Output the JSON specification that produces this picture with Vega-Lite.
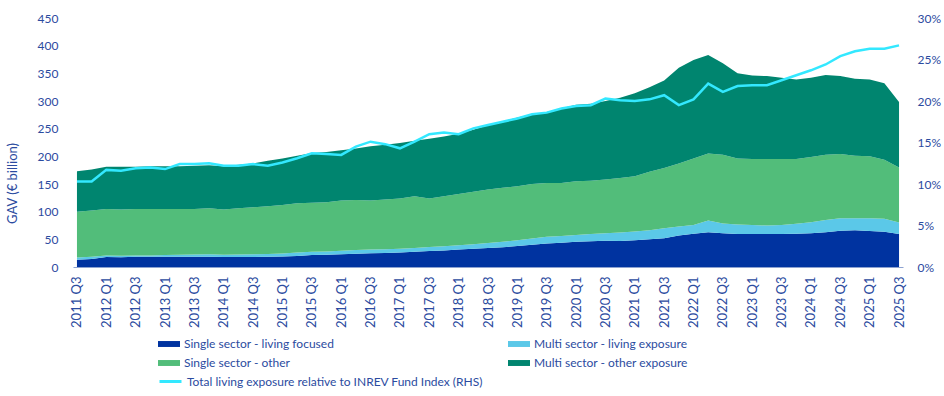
{
  "$schema": "https://vega.github.io/schema/vega-lite/v6.json",
  "width": 830,
  "height": 249,
  "autosize": {"type": "none"},
  "padding": {"left": 73, "top": 18, "right": 41, "bottom": 129},
  "background": "white",
  "config": {
    "view": {"stroke": null},
    "font": "Lato",
    "axis": {"labelColor": "#2B4BA0", "titleColor": "#2B4BA0", "labelFont": "Lato", "titleFont": "Lato", "grid": false, "ticks": false}
  },
  "data": {
    "values": [
      {"q": "2011 Q3", "s1": 13, "s2": 4, "s3": 83, "s4": 73, "p": 10.3},
      {"q": "2011 Q4", "s1": 14.5, "s2": 4, "s3": 83.5, "s4": 74, "p": 10.3},
      {"q": "2012 Q1", "s1": 18, "s2": 3, "s3": 84, "s4": 76, "p": 11.7},
      {"q": "2012 Q2", "s1": 17.5, "s2": 3, "s3": 83.5, "s4": 77, "p": 11.6},
      {"q": "2012 Q3", "s1": 18.5, "s2": 2.5, "s3": 84, "s4": 76, "p": 11.9},
      {"q": "2012 Q4", "s1": 18.5, "s2": 2.5, "s3": 84, "s4": 77, "p": 12.0},
      {"q": "2013 Q1", "s1": 18.5, "s2": 3, "s3": 83.5, "s4": 77, "p": 11.8},
      {"q": "2013 Q2", "s1": 18.5, "s2": 3.5, "s3": 83, "s4": 77, "p": 12.4},
      {"q": "2013 Q3", "s1": 18.5, "s2": 4, "s3": 82.5, "s4": 78, "p": 12.4},
      {"q": "2013 Q4", "s1": 18.5, "s2": 4.5, "s3": 83, "s4": 78, "p": 12.5},
      {"q": "2014 Q1", "s1": 18, "s2": 4, "s3": 82, "s4": 78, "p": 12.2},
      {"q": "2014 Q2", "s1": 18, "s2": 4.5, "s3": 83.5, "s4": 79, "p": 12.2},
      {"q": "2014 Q3", "s1": 18, "s2": 5, "s3": 85, "s4": 79, "p": 12.4},
      {"q": "2014 Q4", "s1": 18.5, "s2": 5, "s3": 86.5, "s4": 82, "p": 12.2},
      {"q": "2015 Q1", "s1": 19, "s2": 5.5, "s3": 87.5, "s4": 84, "p": 12.6},
      {"q": "2015 Q2", "s1": 20, "s2": 6, "s3": 89, "s4": 86, "p": 13.1},
      {"q": "2015 Q3", "s1": 21.5, "s2": 6, "s3": 88.5, "s4": 90, "p": 13.7},
      {"q": "2015 Q4", "s1": 22, "s2": 6, "s3": 89, "s4": 91, "p": 13.6},
      {"q": "2016 Q1", "s1": 23, "s2": 6.5, "s3": 90.5, "s4": 91, "p": 13.5},
      {"q": "2016 Q2", "s1": 24, "s2": 6.5, "s3": 90.5, "s4": 93, "p": 14.5},
      {"q": "2016 Q3", "s1": 25, "s2": 6.5, "s3": 88.5, "s4": 98, "p": 15.1},
      {"q": "2016 Q4", "s1": 25.5, "s2": 6.5, "s3": 90, "s4": 99, "p": 14.8},
      {"q": "2017 Q1", "s1": 26, "s2": 7, "s3": 91, "s4": 100, "p": 14.3},
      {"q": "2017 Q2", "s1": 27.5, "s2": 7, "s3": 93.5, "s4": 100, "p": 15.1},
      {"q": "2017 Q3", "s1": 29, "s2": 7, "s3": 88, "s4": 108, "p": 16.0},
      {"q": "2017 Q4", "s1": 30, "s2": 7.5, "s3": 90.5, "s4": 108, "p": 16.2},
      {"q": "2018 Q1", "s1": 31.5, "s2": 8, "s3": 92.5, "s4": 109, "p": 16.0},
      {"q": "2018 Q2", "s1": 33, "s2": 8, "s3": 95, "s4": 112, "p": 16.7},
      {"q": "2018 Q3", "s1": 34.5, "s2": 9, "s3": 96.5, "s4": 116, "p": 17.1},
      {"q": "2018 Q4", "s1": 35.5, "s2": 10, "s3": 97.5, "s4": 120, "p": 17.5},
      {"q": "2019 Q1", "s1": 38, "s2": 10.5, "s3": 97.5, "s4": 124, "p": 17.9},
      {"q": "2019 Q2", "s1": 40, "s2": 11.5, "s3": 98.5, "s4": 126, "p": 18.4},
      {"q": "2019 Q3", "s1": 42.5, "s2": 12, "s3": 97.5, "s4": 128, "p": 18.6},
      {"q": "2019 Q4", "s1": 44, "s2": 12, "s3": 96, "s4": 135, "p": 19.1},
      {"q": "2020 Q1", "s1": 45.5, "s2": 12.3, "s3": 97.2, "s4": 138, "p": 19.4},
      {"q": "2020 Q2", "s1": 46.5, "s2": 13, "s3": 96.5, "s4": 139, "p": 19.5},
      {"q": "2020 Q3", "s1": 47.5, "s2": 13.5, "s3": 97, "s4": 142, "p": 20.3},
      {"q": "2020 Q4", "s1": 47, "s2": 15.5, "s3": 98.5, "s4": 145, "p": 20.1},
      {"q": "2021 Q1", "s1": 48.5, "s2": 15.5, "s3": 100, "s4": 150, "p": 20.0},
      {"q": "2021 Q2", "s1": 50, "s2": 16.5, "s3": 105.5, "s4": 153, "p": 20.2},
      {"q": "2021 Q3", "s1": 52, "s2": 18, "s3": 109, "s4": 158, "p": 20.7},
      {"q": "2021 Q4", "s1": 57, "s2": 16, "s3": 114, "s4": 173, "p": 19.5},
      {"q": "2022 Q1", "s1": 60, "s2": 16, "s3": 120, "s4": 178, "p": 20.2},
      {"q": "2022 Q2", "s1": 63, "s2": 21, "s3": 121, "s4": 178, "p": 22.1},
      {"q": "2022 Q3", "s1": 61, "s2": 17.5, "s3": 124.5, "s4": 165, "p": 21.1},
      {"q": "2022 Q4", "s1": 59.6, "s2": 17.4, "s3": 119, "s4": 154, "p": 21.8},
      {"q": "2023 Q1", "s1": 59.6, "s2": 16.4, "s3": 119, "s4": 151, "p": 21.9},
      {"q": "2023 Q2", "s1": 59.6, "s2": 15.4, "s3": 120, "s4": 150, "p": 21.9},
      {"q": "2023 Q3", "s1": 59.6, "s2": 16.4, "s3": 119, "s4": 147, "p": 22.5},
      {"q": "2023 Q4", "s1": 60, "s2": 18, "s3": 117, "s4": 144, "p": 23.1},
      {"q": "2024 Q1", "s1": 61, "s2": 20, "s3": 118, "s4": 143, "p": 23.7},
      {"q": "2024 Q2", "s1": 63, "s2": 22, "s3": 118, "s4": 144, "p": 24.4},
      {"q": "2024 Q3", "s1": 65.5, "s2": 22.5, "s3": 116, "s4": 141, "p": 25.4},
      {"q": "2024 Q4", "s1": 66.5, "s2": 21.5, "s3": 113, "s4": 139, "p": 26.0},
      {"q": "2025 Q1", "s1": 65, "s2": 23, "s3": 112, "s4": 139, "p": 26.3},
      {"q": "2025 Q2", "s1": 63.5, "s2": 23.5, "s3": 107, "s4": 138, "p": 26.3},
      {"q": "2025 Q3", "s1": 59.6, "s2": 20.9, "s3": 99.5, "s4": 118, "p": 26.7}
    ]
  },
  "encoding": {
    "x": {
      "field": "q",
      "type": "ordinal",
      "scale": {"type": "point", "padding": 0.27},
      "axis": {
        "title": null,
        "labelAngle": -90,
        "labelFontSize": 13,
        "labelPadding": 9,
        "labelOverlap": false,
        "labelExpr": "indexof(datum.label, 'Q2') >= 0 || indexof(datum.label, 'Q4') >= 0 ? '' : datum.label",
        "domainColor": "#8DA2D0",
        "domainWidth": 1
      }
    }
  },
  "layer": [
    {
      "transform": [{"fold": ["s1", "s2", "s3", "s4"], "as": ["series", "value"]}],
      "mark": {"type": "area", "opacity": 1},
      "encoding": {
        "y": {
          "field": "value",
          "type": "quantitative",
          "stack": "zero",
          "scale": {"domain": [0, 450]},
          "axis": {
            "title": "GAV (€ billion)",
            "values": [0, 50, 100, 150, 200, 250, 300, 350, 400, 450],
            "domain": false,
            "labelFontSize": 12,
            "labelPadding": 15,
            "titleFontSize": 13,
            "titleFontWeight": "normal",
            "titleX": -61,
            "titleY": 165,
            "titleBaseline": "middle",
            "titleAlign": "center"
          }
        },
        "fill": {
          "field": "series",
          "type": "nominal",
          "sort": ["s1", "s2", "s3", "s4"],
          "scale": {"domain": ["s1", "s2", "s3", "s4"], "range": ["#0033A0", "#5BC8E8", "#52BD7A", "#00856F"]},
          "legend": {
            "title": null,
            "orient": "none",
            "direction": "horizontal",
            "legendX": 85,
            "legendY": 315,
            "columns": 2,
            "columnPadding": 173,
            "rowPadding": 2,
            "padding": 0,
            "symbolType": "M-1,-0.27L1,-0.27L1,0.27L-1,0.27Z",
            "symbolSize": 484,
            "symbolStrokeWidth": 0,
            "labelFontSize": 12,
            "labelColor": "#2B4BA0",
            "labelOffset": 4,
            "labelLimit": 400,
            "labelExpr": "datum.label == 's1' ? 'Single sector - living focused' : datum.label == 's2' ? 'Multi sector - living exposure' : datum.label == 's3' ? 'Single sector - other' : 'Multi sector - other exposure'"
          }
        },
        "order": {"field": "series", "sort": "ascending"}
      }
    },
    {
      "mark": {"type": "line", "strokeWidth": 2.5},
      "encoding": {
        "y": {
          "field": "p",
          "type": "quantitative",
          "scale": {"domain": [0, 30]},
          "axis": {
            "orient": "right",
            "title": null,
            "values": [0, 5, 10, 15, 20, 25, 30],
            "labelExpr": "datum.value + '%'",
            "domain": false,
            "labelFontSize": 12,
            "labelPadding": 14
          }
        },
        "stroke": {
          "datum": "Total living exposure relative to INREV Fund Index (RHS)",
          "type": "nominal",
          "scale": {"range": ["#33E8FF"]},
          "legend": {
            "title": null,
            "orient": "none",
            "legendX": 85,
            "legendY": 351,
            "padding": 0,
            "symbolType": "stroke",
            "symbolSize": 484,
            "symbolStrokeWidth": 3,
            "labelFontSize": 12,
            "labelColor": "#2B4BA0",
            "labelOffset": 4,
            "labelLimit": 400
          }
        }
      }
    }
  ],
  "resolve": {"scale": {"y": "independent"}}
}
